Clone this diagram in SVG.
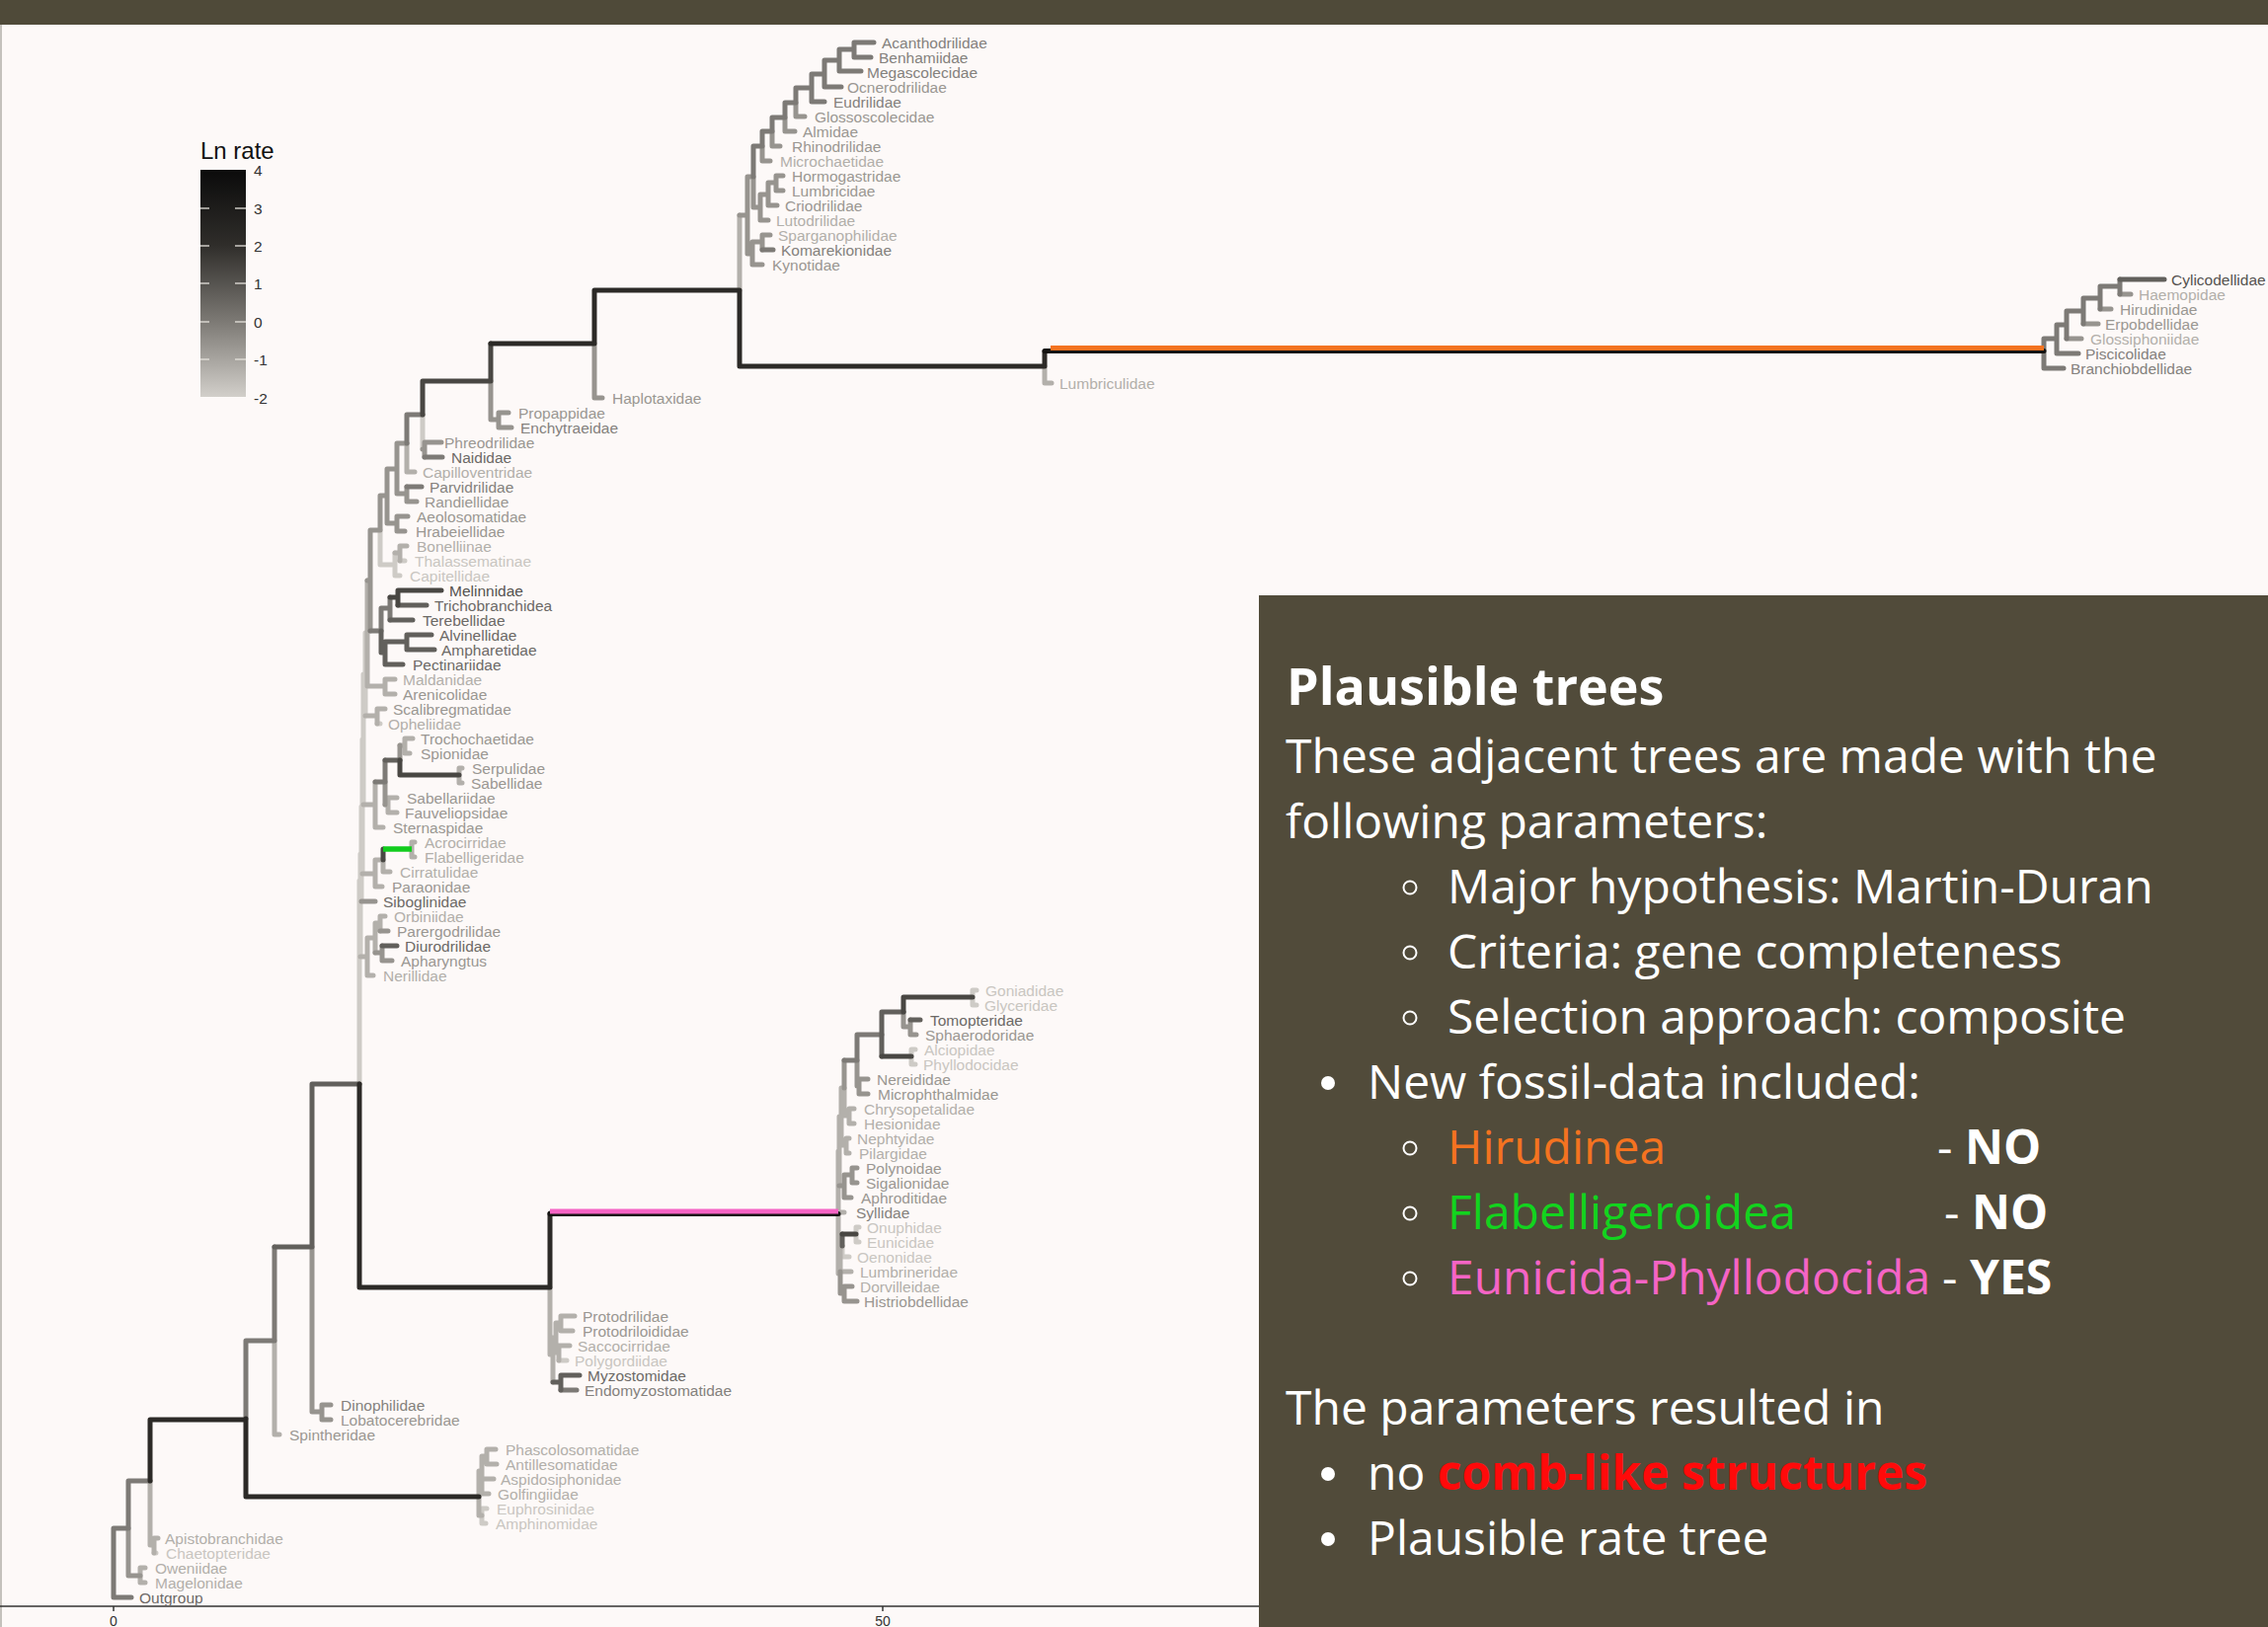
<svg xmlns="http://www.w3.org/2000/svg" width="2297" height="1648" viewBox="0 0 2297 1648">
<defs>
<linearGradient id="lg" x1="0" y1="0" x2="0" y2="1">
<stop offset="0" stop-color="#0b0b0b"/>
<stop offset="0.33" stop-color="#2f2d2a"/>
<stop offset="0.67" stop-color="#7d7a75"/>
<stop offset="1" stop-color="#d2cfca"/>
</linearGradient>
</defs>
<style>
.e{fill:none;stroke-width:5;stroke-linecap:round;stroke-linejoin:round}
.k0{stroke:#141311}.k1{stroke:#2c2a27}.k2{stroke:#494743}.k3{stroke:#62605c}.k4{stroke:#7d7a76}.k5{stroke:#97948f}.k6{stroke:#b3b0ab}.k7{stroke:#cecbc6}
.t{font-family:"Liberation Sans",Arial,sans-serif;font-size:15.5px}
.a{fill:#555350}.b{fill:#6c6966}.c{fill:#84817d}.d{fill:#9a9792}.f{fill:#b2afaa}.g{fill:#c9c6c1}
.p{font-family:"Open Sans","Noto Sans",sans-serif;font-size:48px;fill:#ffffff}
.h{font-size:52px;font-weight:bold}
.lg{font-family:"Liberation Sans",Arial,sans-serif;font-size:15.5px;fill:#333}
</style>
<rect x="0" y="0" width="2297" height="1648" fill="#fdf9f8"/>
<rect x="0" y="0" width="2297" height="25" fill="#4f4a39"/>
<rect x="0" y="25" width="2" height="1623" fill="#c4c1bc"/>

<g id="legend">
<text x="203" y="161" font-family="Liberation Sans,Arial,sans-serif" font-size="24" fill="#111">Ln rate</text>
<rect x="203" y="172" width="46" height="230" fill="url(#lg)"/>
<g stroke="#e6e3de" stroke-width="1.3">
<line x1="203" y1="211" x2="212" y2="211"/><line x1="238" y1="211" x2="249" y2="211"/>
<line x1="203" y1="249" x2="212" y2="249"/><line x1="238" y1="249" x2="249" y2="249"/>
<line x1="203" y1="287" x2="212" y2="287"/><line x1="238" y1="287" x2="249" y2="287"/>
<line x1="203" y1="326" x2="212" y2="326"/><line x1="238" y1="326" x2="249" y2="326"/>
<line x1="203" y1="364" x2="212" y2="364"/><line x1="238" y1="364" x2="249" y2="364"/>
</g>
<text class="lg" x="257" y="178">4</text>
<text class="lg" x="257" y="217">3</text>
<text class="lg" x="257" y="255">2</text>
<text class="lg" x="257" y="293">1</text>
<text class="lg" x="257" y="332">0</text>
<text class="lg" x="257" y="370">-1</text>
<text class="lg" x="257" y="409">-2</text>
</g>

<g id="axis">
<line x1="0" y1="1627" x2="1275" y2="1627" stroke="#333" stroke-width="1.5"/>
<line x1="115" y1="1627" x2="115" y2="1632" stroke="#333" stroke-width="1.5"/>
<line x1="894" y1="1627" x2="894" y2="1632" stroke="#333" stroke-width="1.5"/>
<text x="115" y="1647" text-anchor="middle" font-family="Liberation Sans,Arial,sans-serif" font-size="14" fill="#333">0</text>
<text x="894" y="1647" text-anchor="middle" font-family="Liberation Sans,Arial,sans-serif" font-size="14" fill="#333">50</text>
</g>

<g id="connectors">
<path class="e k7" d="M364,892 V1098 M365,865 V969 M366,817 V913 M367,749 V885 M368,683 V815 M370,641 V725 M428,420 V455 M385,537 V572 M385,572 H400 M400,560 V583 M400,583 H405 M405,568 H410 M382,733 H385 M566,1378 H574 M985,1003 V1018 M985,1003 H989 M985,1018 H989 M923,1063 V1078 M923,1063 H927 M923,1078 H927 M867,1243 V1258 M867,1243 H870 M867,1258 H870 M853,1262 V1273 M853,1273 H860 M488,1528 V1543 M488,1528 H493 M488,1543 H492 M156,1573 H158"/>
<path class="e k6" d="M142,1588 V1603 M142,1588 H147 M142,1603 H147 M152,1500 V1565 M152,1565 H156 M156,1558 V1573 M156,1558 H160 M278,1358 V1453 M278,1453 H283 M485,1490 V1535 M485,1490 H488 M488,1475 V1505 M488,1475 H493 M493,1468 V1483 M493,1468 H502 M493,1483 H503 M488,1498 V1513 M488,1498 H500 M488,1513 H495 M485,1535 H488 M557,1304 V1372 M557,1372 H560 M560,1355 V1400 M560,1355 H563 M563,1340 V1370 M563,1340 H568 M568,1333 V1348 M568,1333 H582 M568,1348 H580 M563,1370 H566 M566,1363 V1378 M566,1363 H577 M849,1166 V1290 M849,1166 H850 M850,1131 V1201 M850,1131 H852 M852,1102 V1160 M852,1102 H855 M855,1102 V1130 M855,1130 H860 M860,1123 V1138 M860,1123 H865 M860,1138 H865 M852,1160 H857 M857,1153 V1168 M857,1153 H860 M857,1168 H860 M849,1228 H855 M849,1280 H851 M851,1262 V1288 M851,1262 H853 M851,1288 H862 M372,588 V695 M372,695 H390 M390,688 V703 M390,688 H400 M390,703 H400 M370,725 H382 M382,718 V733 M382,718 H390 M365,969 H372 M372,950 V988 M372,950 H380 M380,935 V965 M380,935 H385 M385,928 V943 M385,928 H390 M372,988 H378 M367,885 H380 M380,871 V898 M380,871 H388 M388,871 V883 M388,883 H395 M380,898 H387 M417,853 V868 M417,853 H420 M417,868 H420 M368,815 H380 M380,792 V838 M380,838 H388 M410,748 V763 M410,748 H418 M410,763 H415 M405,755 H410 M465,778 V793 M465,778 H468 M465,793 H468 M390,815 H393 M393,808 V823 M393,808 H402 M393,823 H402 M412,449 V478 M412,478 H420 M405,553 V568 M405,553 H412 M400,560 H405 M1058,371 V388 M1058,388 H1065 M749,218 V294"/>
<path class="e k5" d="M130,1548 V1596 M130,1596 H142 M316,1263 V1430 M316,1430 H326 M326,1423 V1438 M326,1423 H335 M326,1438 H335 M375,537 V639 M372,588 H375 M375,537 H385 M385,502 V537 M385,502 H392 M392,475 V530 M392,530 H402 M402,523 V538 M402,523 H413 M402,538 H410 M392,475 H402 M402,449 V500 M402,449 H412 M402,500 H412 M412,493 V508 M412,508 H422 M428,455 H430 M430,448 V463 M430,448 H447 M497,386 V425 M497,425 H505 M505,418 V433 M505,418 H515 M505,433 H518 M602,348 V403 M602,403 H610 M390,792 V815 M405,755 V770 M915,1025 V1040 M915,1040 H922 M922,1033 V1048 M922,1048 H928 M868,1074 V1100 M868,1100 H870 M870,1093 V1108 M870,1093 H879 M870,1108 H879 M855,1074 V1102 M850,1201 H855 M855,1190 V1213 M855,1190 H863 M863,1183 V1198 M863,1183 H868 M863,1198 H868 M855,1213 H862 M851,1288 V1310 M851,1310 H855 M855,1303 V1318 M855,1303 H863 M855,1318 H868 M385,943 H393 M387,973 H397 M387,958 V973 M380,965 H387 M2093,343 H2108 M2110,328 H2125 M2127,313 H2138 M2147,298 H2158 M757,179 V257 M749,218 H757 M757,179 H763 M763,179 V210 M772,148 V163 M772,163 H780 M782,133 V148 M782,148 H790 M795,119 V133 M795,133 H805 M806,104 V118 M806,118 H815 M763,210 H770 M770,197 V223 M770,223 H778 M770,197 H778 M778,185 V208 M778,208 H787 M778,185 H786 M786,178 V193 M786,178 H793 M786,193 H793 M757,257 H762 M762,245 V268 M762,268 H772 M762,245 H772 M772,238 V253 M772,238 H780 M366,913 H380"/>
<path class="e k4" d="M115,1548 V1618 M115,1618 H133 M115,1548 H130 M130,1500 V1548 M130,1500 H152 M249,1358 V1437 M249,1358 H278 M278,1263 V1358 M395,605 V628 M386,616 H395 M386,616 V639 M412,420 H428 M412,420 V449 M430,463 H448 M412,493 H427 M868,1048 H893 M868,1048 V1074 M855,1074 H868 M390,770 V792 M380,792 H390 M568,1408 H584 M375,639 H386 M2070,343 V373 M2070,373 H2090 M2070,343 H2083 M2083,329 V358 M2083,358 H2105 M2083,329 H2093 M2093,315 V343 M2093,315 H2110 M2110,302 V328 M2110,302 H2127 M2127,290 V313 M2127,290 H2147 M2147,283 V298 M763,148 V179 M763,148 H772 M772,133 V148 M772,133 H782 M782,119 V133 M782,119 H795 M795,104 V119 M795,104 H806 M806,89 V104 M806,89 H822 M822,75 V89 M822,75 H835 M835,61 V75 M835,61 H850 M850,50 V61 M850,50 H865 M865,43 V58 M865,43 H885 M865,58 H882 M850,72 H872 M850,61 V72 M835,75 V88 M835,88 H852 M822,89 V103 M822,103 H835 M772,253 H783"/>
<path class="e k3" d="M316,1098 H364 M278,1263 H316 M316,1098 V1263 M403,613 H432 M395,628 H418 M390,650 V673 M390,650 H412 M412,643 V658 M412,643 H437 M412,658 H440 M390,673 H408 M390,770 H405 M893,1025 H915 M893,1025 V1070 M387,958 H402 M560,1400 H568 M568,1393 V1408 M568,1393 H587 M2147,283 H2192 M853,1250 V1262 M922,1033 H932 M386,639 V661 M386,661 H390"/>
<path class="e k2" d="M428,386 H497 M428,386 V420 M497,348 V386 M915,1010 H985 M893,1070 H923 M405,785 H465 M405,770 V785 M395,605 H403 M403,598 V613 M403,598 H447 M388,860 V871 M853,1250 H867 M915,1010 V1025"/>
<path class="e k1" d="M152,1438 V1500 M152,1438 H249 M249,1437 V1516 M249,1516 H485 M364,1098 V1304 M364,1304 H557 M557,1229 V1304 M497,348 H602 M602,294 V348 M602,294 H749 M749,294 V371 M749,371 H1058 M1058,356 V371"/>
<path class="e k0" d="M1058,355.5 H2070 M557,1229.5 H849"/>
<path fill="none" stroke="#f47320" stroke-width="5" d="M1064,352.5 H2070"/>
<path fill="none" stroke="#f564c5" stroke-width="5" d="M557,1227 H849"/>
<path fill="none" stroke="#12cc1e" stroke-width="5.5" d="M388,860 H417"/>
</g>

<g id="tips">
<g id="t0"><text class="t c" x="893" y="48.5">Acanthodrilidae</text></g>
<g id="t1"><text class="t c" x="890" y="63.5">Benhamiidae</text></g>
<g id="t2"><text class="t c" x="878" y="78.5">Megascolecidae</text></g>
<g id="t3"><text class="t d" x="858" y="93.5">Ocnerodrilidae</text></g>
<g id="t4"><text class="t c" x="844" y="108.5">Eudrilidae</text></g>
<g id="t5"><text class="t d" x="825" y="123.5">Glossoscolecidae</text></g>
<g id="t6"><text class="t d" x="813" y="138.5">Almidae</text></g>
<g id="t7"><text class="t d" x="802" y="153.5">Rhinodrilidae</text></g>
<g id="t8"><text class="t f" x="790" y="168.5">Microchaetidae</text></g>
<g id="t9"><text class="t d" x="802" y="183.5">Hormogastridae</text></g>
<g id="t10"><text class="t d" x="802" y="198.5">Lumbricidae</text></g>
<g id="t11"><text class="t d" x="795" y="213.5">Criodrilidae</text></g>
<g id="t12"><text class="t f" x="786" y="228.5">Lutodrilidae</text></g>
<g id="t13"><text class="t f" x="788" y="243.5">Sparganophilidae</text></g>
<g id="t14"><text class="t c" x="791" y="258.5">Komarekionidae</text></g>
<g id="t15"><text class="t d" x="782" y="273.5">Kynotidae</text></g>
<g id="t16"><text class="t a" x="2199" y="288.5">Cylicodellidae</text></g>
<g id="t17"><text class="t f" x="2166" y="303.5">Haemopidae</text></g>
<g id="t18"><text class="t d" x="2147" y="318.5">Hirudinidae</text></g>
<g id="t19"><text class="t d" x="2132" y="333.5">Erpobdellidae</text></g>
<g id="t20"><text class="t f" x="2117" y="348.5">Glossiphoniidae</text></g>
<g id="t21"><text class="t c" x="2112" y="363.5">Piscicolidae</text></g>
<g id="t22"><text class="t c" x="2097" y="378.5">Branchiobdellidae</text></g>
<g id="t23"><text class="t f" x="1073" y="393.5">Lumbriculidae</text></g>
<g id="t24"><text class="t d" x="620" y="408.5">Haplotaxidae</text></g>
<g id="t25"><text class="t d" x="525" y="423.5">Propappidae</text></g>
<g id="t26"><text class="t c" x="527" y="438.5">Enchytraeidae</text></g>
<g id="t27"><text class="t d" x="450" y="453.5">Phreodrilidae</text></g>
<g id="t28"><text class="t b" x="457" y="468.5">Naididae</text></g>
<g id="t29"><text class="t f" x="428" y="483.5">Capilloventridae</text></g>
<g id="t30"><text class="t c" x="435" y="498.5">Parvidrilidae</text></g>
<g id="t31"><text class="t d" x="430" y="513.5">Randiellidae</text></g>
<g id="t32"><text class="t d" x="422" y="528.5">Aeolosomatidae</text></g>
<g id="t33"><text class="t d" x="421" y="543.5">Hrabeiellidae</text></g>
<g id="t34"><text class="t f" x="422" y="558.5">Bonelliinae</text></g>
<g id="t35"><text class="t g" x="420" y="573.5">Thalassematinae</text></g>
<g id="t36"><text class="t g" x="415" y="588.5">Capitellidae</text></g>
<g id="t37"><text class="t a" x="455" y="603.5">Melinnidae</text></g>
<g id="t38"><text class="t b" x="440" y="618.5">Trichobranchidea</text></g>
<g id="t39"><text class="t b" x="428" y="633.5">Terebellidae</text></g>
<g id="t40"><text class="t b" x="445" y="648.5">Alvinellidae</text></g>
<g id="t41"><text class="t b" x="447" y="663.5">Ampharetidae</text></g>
<g id="t42"><text class="t b" x="418" y="678.5">Pectinariidae</text></g>
<g id="t43"><text class="t f" x="408" y="693.5">Maldanidae</text></g>
<g id="t44"><text class="t d" x="408" y="708.5">Arenicolidae</text></g>
<g id="t45"><text class="t d" x="398" y="723.5">Scalibregmatidae</text></g>
<g id="t46"><text class="t f" x="393" y="738.5">Opheliidae</text></g>
<g id="t47"><text class="t d" x="426" y="753.5">Trochochaetidae</text></g>
<g id="t48"><text class="t d" x="426" y="768.5">Spionidae</text></g>
<g id="t49"><text class="t d" x="478" y="783.5">Serpulidae</text></g>
<g id="t50"><text class="t d" x="477" y="798.5">Sabellidae</text></g>
<g id="t51"><text class="t d" x="412" y="813.5">Sabellariidae</text></g>
<g id="t52"><text class="t d" x="410" y="828.5">Fauveliopsidae</text></g>
<g id="t53"><text class="t d" x="398" y="843.5">Sternaspidae</text></g>
<g id="t54"><text class="t f" x="430" y="858.5">Acrocirridae</text></g>
<g id="t55"><text class="t f" x="430" y="873.5">Flabelligeridae</text></g>
<g id="t56"><text class="t f" x="405" y="888.5">Cirratulidae</text></g>
<g id="t57"><text class="t d" x="397" y="903.5">Paraonidae</text></g>
<g id="t58"><text class="t b" x="388" y="918.5">Siboglinidae</text></g>
<g id="t59"><text class="t f" x="399" y="933.5">Orbiniidae</text></g>
<g id="t60"><text class="t d" x="402" y="948.5">Parergodrilidae</text></g>
<g id="t61"><text class="t b" x="410" y="963.5">Diurodrilidae</text></g>
<g id="t62"><text class="t d" x="406" y="978.5">Apharyngtus</text></g>
<g id="t63"><text class="t f" x="388" y="993.5">Nerillidae</text></g>
<g id="t64"><text class="t g" x="998" y="1008.5">Goniadidae</text></g>
<g id="t65"><text class="t g" x="997" y="1023.5">Glyceridae</text></g>
<g id="t66"><text class="t b" x="942" y="1038.5">Tomopteridae</text></g>
<g id="t67"><text class="t d" x="937" y="1053.5">Sphaerodoridae</text></g>
<g id="t68"><text class="t g" x="936" y="1068.5">Alciopidae</text></g>
<g id="t69"><text class="t g" x="935" y="1083.5">Phyllodocidae</text></g>
<g id="t70"><text class="t d" x="888" y="1098.5">Nereididae</text></g>
<g id="t71"><text class="t d" x="889" y="1113.5">Microphthalmidae</text></g>
<g id="t72"><text class="t f" x="875" y="1128.5">Chrysopetalidae</text></g>
<g id="t73"><text class="t f" x="875" y="1143.5">Hesionidae</text></g>
<g id="t74"><text class="t f" x="868" y="1158.5">Nephtyidae</text></g>
<g id="t75"><text class="t f" x="870" y="1173.5">Pilargidae</text></g>
<g id="t76"><text class="t d" x="877" y="1188.5">Polynoidae</text></g>
<g id="t77"><text class="t d" x="877" y="1203.5">Sigalionidae</text></g>
<g id="t78"><text class="t d" x="872" y="1218.5">Aphroditidae</text></g>
<g id="t79"><text class="t c" x="867" y="1233.5">Syllidae</text></g>
<g id="t80"><text class="t g" x="878" y="1248.5">Onuphidae</text></g>
<g id="t81"><text class="t g" x="878" y="1263.5">Eunicidae</text></g>
<g id="t82"><text class="t g" x="868" y="1278.5">Oenonidae</text></g>
<g id="t83"><text class="t f" x="871" y="1293.5">Lumbrineridae</text></g>
<g id="t84"><text class="t f" x="871" y="1308.5">Dorvilleidae</text></g>
<g id="t85"><text class="t d" x="875" y="1323.5">Histriobdellidae</text></g>
<g id="t86"><text class="t d" x="590" y="1338.5">Protodrilidae</text></g>
<g id="t87"><text class="t d" x="590" y="1353.5">Protodriloididae</text></g>
<g id="t88"><text class="t f" x="585" y="1368.5">Saccocirridae</text></g>
<g id="t89"><text class="t g" x="582" y="1383.5">Polygordiidae</text></g>
<g id="t90"><text class="t b" x="595" y="1398.5">Myzostomidae</text></g>
<g id="t91"><text class="t c" x="592" y="1413.5">Endomyzostomatidae</text></g>
<g id="t92"><text class="t c" x="345" y="1428.5">Dinophilidae</text></g>
<g id="t93"><text class="t d" x="345" y="1443.5">Lobatocerebridae</text></g>
<g id="t94"><text class="t d" x="293" y="1458.5">Spintheridae</text></g>
<g id="t95"><text class="t f" x="512" y="1473.5">Phascolosomatidae</text></g>
<g id="t96"><text class="t f" x="512" y="1488.5">Antillesomatidae</text></g>
<g id="t97"><text class="t f" x="507" y="1503.5">Aspidosiphonidae</text></g>
<g id="t98"><text class="t f" x="504" y="1518.5">Golfingiidae</text></g>
<g id="t99"><text class="t g" x="503" y="1533.5">Euphrosinidae</text></g>
<g id="t100"><text class="t g" x="502" y="1548.5">Amphinomidae</text></g>
<g id="t101"><text class="t f" x="167" y="1563.5">Apistobranchidae</text></g>
<g id="t102"><text class="t g" x="168" y="1578.5">Chaetopteridae</text></g>
<g id="t103"><text class="t f" x="157" y="1593.5">Oweniidae</text></g>
<g id="t104"><text class="t f" x="157" y="1608.5">Magelonidae</text></g>
<g id="t105"><text class="t b" x="141" y="1623.5">Outgroup</text></g>
</g>

<g id="panel">
<rect x="1275" y="603" width="1022" height="1045" fill="#514b3a"/>
<text class="p h" x="1303" y="714">Plausible trees</text>
<text class="p" x="1302" y="783">These adjacent trees are made with the</text>
<text class="p" x="1302" y="849">following parameters:</text>
<g fill="none" stroke="#fff" stroke-width="2">
<circle cx="1428" cy="899" r="6.5"/>
<circle cx="1428" cy="965" r="6.5"/>
<circle cx="1428" cy="1031" r="6.5"/>
<circle cx="1428" cy="1163" r="6.5"/>
<circle cx="1428" cy="1229" r="6.5"/>
<circle cx="1428" cy="1295" r="6.5"/>
</g>
<g fill="#fff">
<circle cx="1345" cy="1097" r="7"/>
<circle cx="1345" cy="1493" r="7"/>
<circle cx="1345" cy="1559" r="7"/>
</g>
<text class="p" x="1466" y="915">Major hypothesis: Martin-Duran</text>
<text class="p" x="1466" y="981">Criteria: gene completeness</text>
<text class="p" x="1466" y="1047">Selection approach: composite</text>
<text class="p" x="1385" y="1113">New fossil-data included:</text>
<text class="p" x="1466" y="1179"><tspan fill="#f47320">Hirudinea</tspan><tspan x="1962">- </tspan><tspan font-weight="bold">NO</tspan></text>
<text class="p" x="1466" y="1245"><tspan fill="#12d41e">Flabelligeroidea</tspan><tspan x="1969">- </tspan><tspan font-weight="bold">NO</tspan></text>
<text class="p" x="1466" y="1311"><tspan fill="#f564c5">Eunicida-Phyllodocida</tspan><tspan x="1967">- </tspan><tspan font-weight="bold">YES</tspan></text>
<text class="p" x="1302" y="1443">The parameters resulted in</text>
<text class="p" x="1385" y="1509">no <tspan fill="#ff0a0a" font-weight="bold">comb-like structures</tspan></text>
<text class="p" x="1385" y="1575">Plausible rate tree</text>
</g>
</svg>
